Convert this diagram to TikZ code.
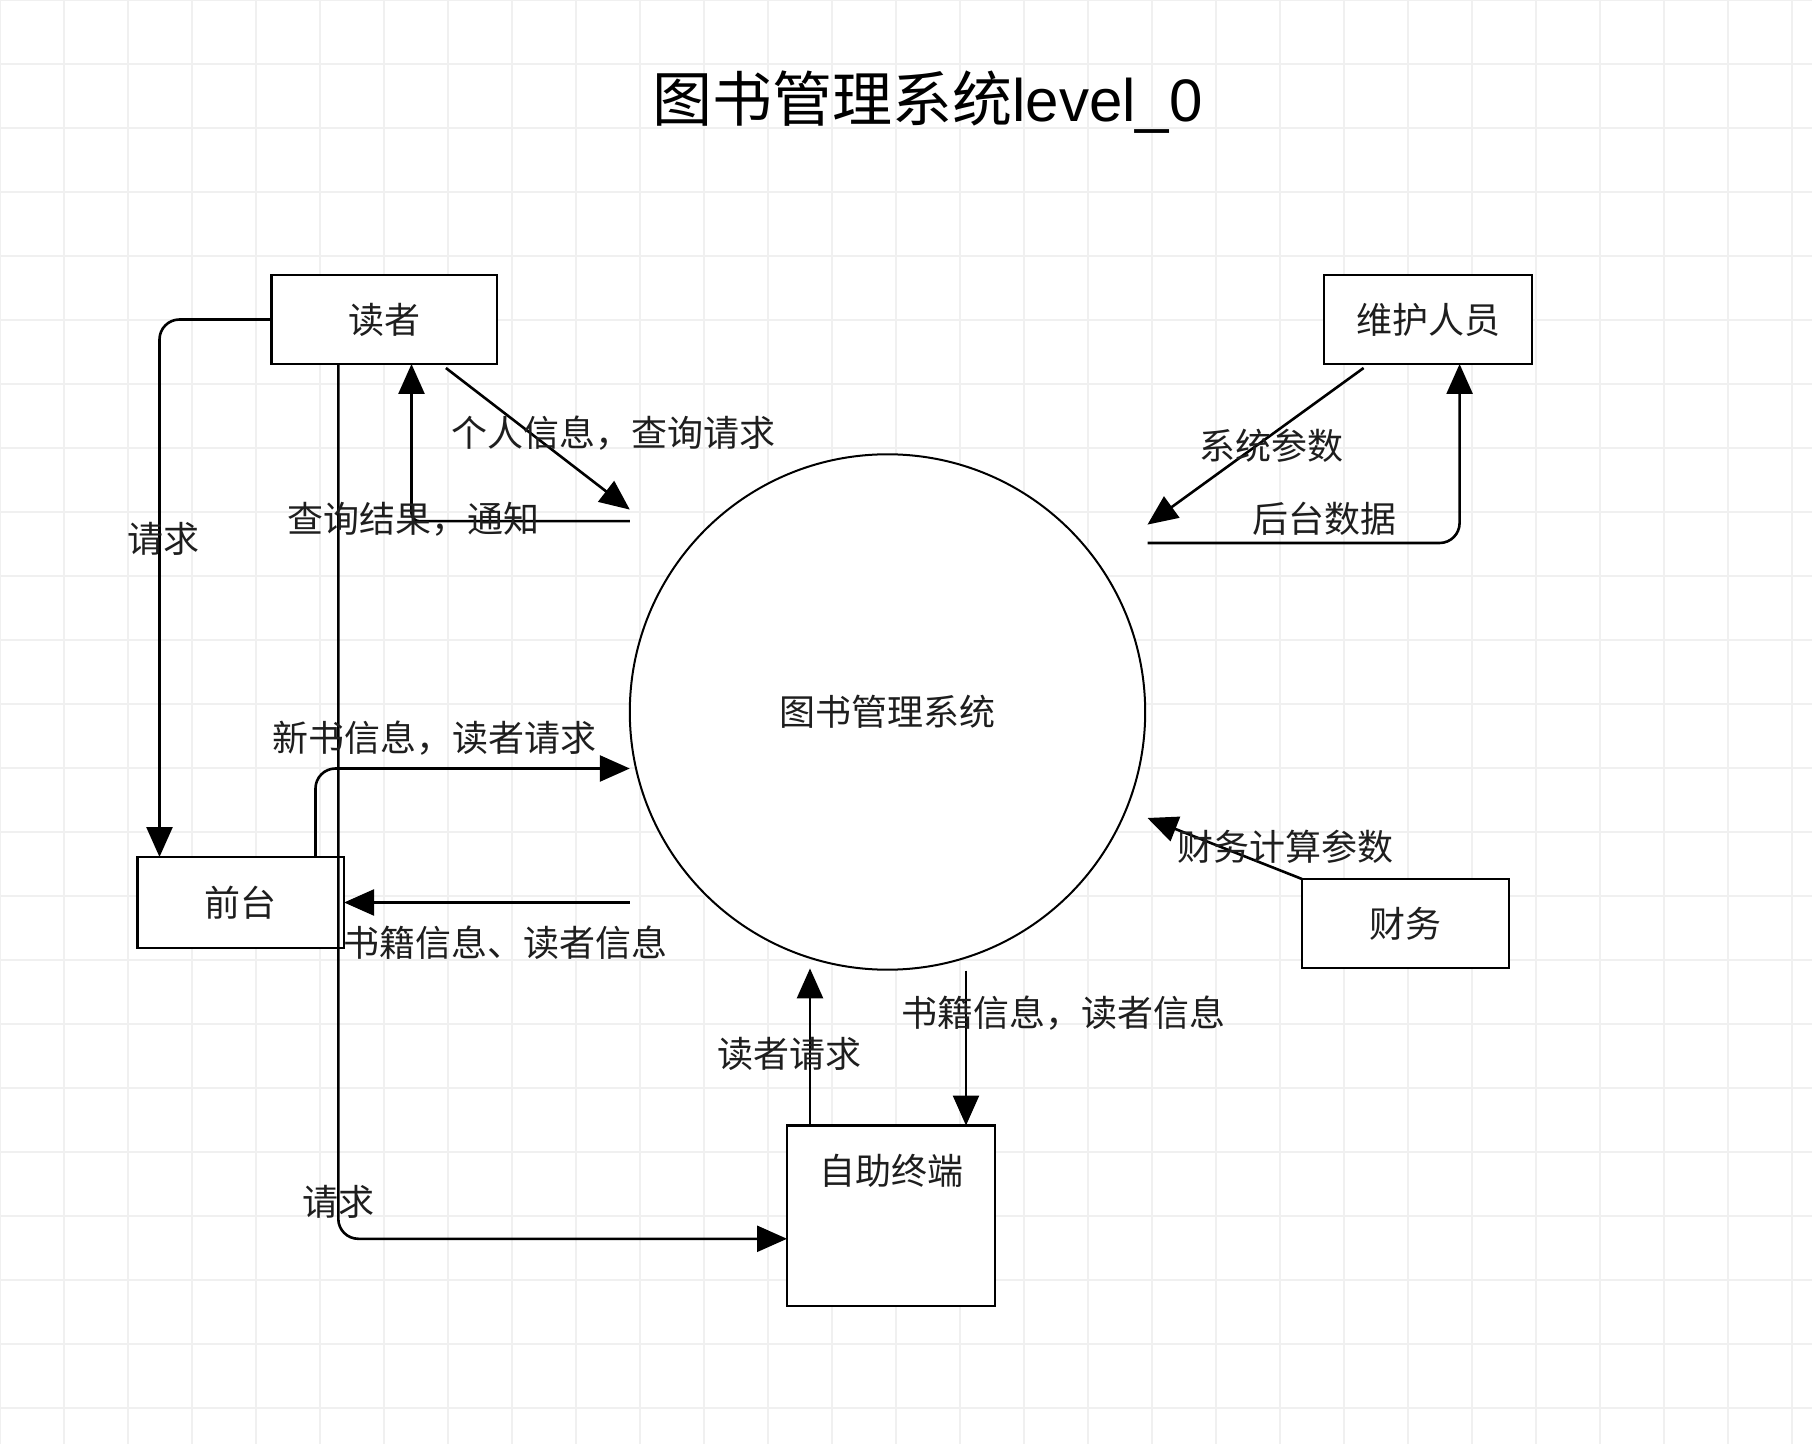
\documentclass[tikz,border=0pt]{standalone}
\usepackage{fontspec}
\newfontfamily\cjk{Noto Sans CJK SC}
\newfontfamily\lat{Liberation Sans}
\usetikzlibrary{arrows.meta}
\definecolor{gridgray}{HTML}{F0F0F0}
\definecolor{ink}{HTML}{1E1E1E}
\begin{document}
\begin{tikzpicture}[x=0.5pt,y=-0.5pt,
  gridline/.style={draw=gridgray,line width=0.6pt},
  entity/.style={draw=black,line width=1.3pt,fill=white,inner sep=0pt,outer sep=0pt,
    font=\cjk\fontsize{18}{20}\selectfont,text=ink},
  process/.style={draw=black,line width=1pt,fill=white,circle,inner sep=0pt,outer sep=0pt,
    minimum size=257.7pt,font=\cjk\fontsize{18}{20}\selectfont,text=ink},
  flowlabel/.style={inner sep=0pt,font=\cjk\fontsize{18}{20}\selectfont,text=ink},
  flow/.style={draw=black,line width=1.3pt,-{Triangle[length=15pt,width=13pt]}},
  plain/.style={draw=black,line width=1.3pt}]

% canvas and background grid
\fill[white] (0,0) rectangle (1812,1444);
\useasboundingbox (0,0) rectangle (1812,1444);
\foreach \i in {0,...,28} \draw[gridline] (\i*64,0) -- (\i*64,1444);
\foreach \j in {0,...,22} \draw[gridline] (0,\j*64) -- (1812,\j*64);

% title
\node[inner sep=0pt,text=black] (title) at (927.4,101.7)
  {\cjk\fontsize{30}{34}\selectfont 图书管理系统\lat level\_0};

% external entities
\node[entity,minimum width=112.6pt,minimum height=44.5pt] (reader)  at (384.3,319.5)  {读者};
\node[entity,minimum width=104pt,  minimum height=44.5pt] (maint)   at (1428,319.5)   {维护人员};
\node[entity,minimum width=103.3pt,minimum height=45.5pt] (desk)    at (240.8,902.5)  {前台};
\node[entity,minimum width=103.5pt,minimum height=44.5pt] (finance) at (1405.5,923.5) {财务};
\node[entity,minimum width=104pt,  minimum height=90.3pt] (kiosk)   at (891,1215.8)   {};
\node[flowlabel] (kioskname) at (891,1171) {自助终端};

% the system process
\node[process] (sys) at (887.5,712) {图书管理系统};

% free ends of the flows next to the process
\coordinate (rq) at (629.8,509.6);
\coordinate (rs) at (629.8,521.2);
\coordinate (mp) at (1147.5,524.6);
\coordinate (md) at (1147.5,543);
\coordinate (fp) at (1147.5,818);
\coordinate (nb) at (629.8,768.5);
\coordinate (bi) at (629.8,902.5);
\coordinate (kr) at (810,968.4);
\coordinate (kb) at (966,970.7);

% reader flows
\draw[flow,rounded corners=10pt] (reader.west) -| ([xshift=11pt]desk.north west);
\draw[flow,rounded corners=10pt] ([xshift=33.3pt]reader.south west) |- ([yshift=-11.5pt]kiosk.west);
\draw[flow] ([xshift=-25.5pt,yshift=-2pt]reader.south east) -- (rq);
\draw[flow,rounded corners=4pt] (rs) -| ([xshift=13.6pt]reader.south);

% maintenance flows
\draw[flow] ([xshift=19.8pt,yshift=-2pt]maint.south west) -- (mp);
\draw[flow,rounded corners=10pt] (md) -| ([xshift=15.8pt]maint.south);

% finance flow
\draw[flow] (finance.north west) -- (fp);

% front desk flows
\draw[flow,rounded corners=10pt] ([xshift=89pt]desk.north west) |- (nb);
\draw[flow] (bi) -- (desk.east);

% self-service terminal flows
\draw[flow] ([xshift=11.5pt]kiosk.north west) -- (kr);
\draw[flow] (kb) -- (kb |- kiosk.north);

% flow labels
\node[flowlabel] (l1)  at (163,538.5)    {请求};
\node[flowlabel] (l2)  at (338.6,1201.8) {请求};
\node[flowlabel] (l3)  at (613.6,433.4)  {个人信息，查询请求};
\node[flowlabel] (l4)  at (413.7,518.9)  {查询结果，通知};
\node[flowlabel] (l5)  at (1271,446)     {系统参数};
\node[flowlabel] (l6)  at (1324,519)     {后台数据};
\node[flowlabel] (l7)  at (1285,847)     {财务计算参数};
\node[flowlabel] (l8)  at (434.5,738.4)  {新书信息，读者请求};
\node[flowlabel] (l9)  at (505,943)      {书籍信息、读者信息};
\node[flowlabel] (l10) at (789,1054)     {读者请求};
\node[flowlabel] (l11) at (1063,1013.5)  {书籍信息，读者信息};
\end{tikzpicture}
\end{document}
